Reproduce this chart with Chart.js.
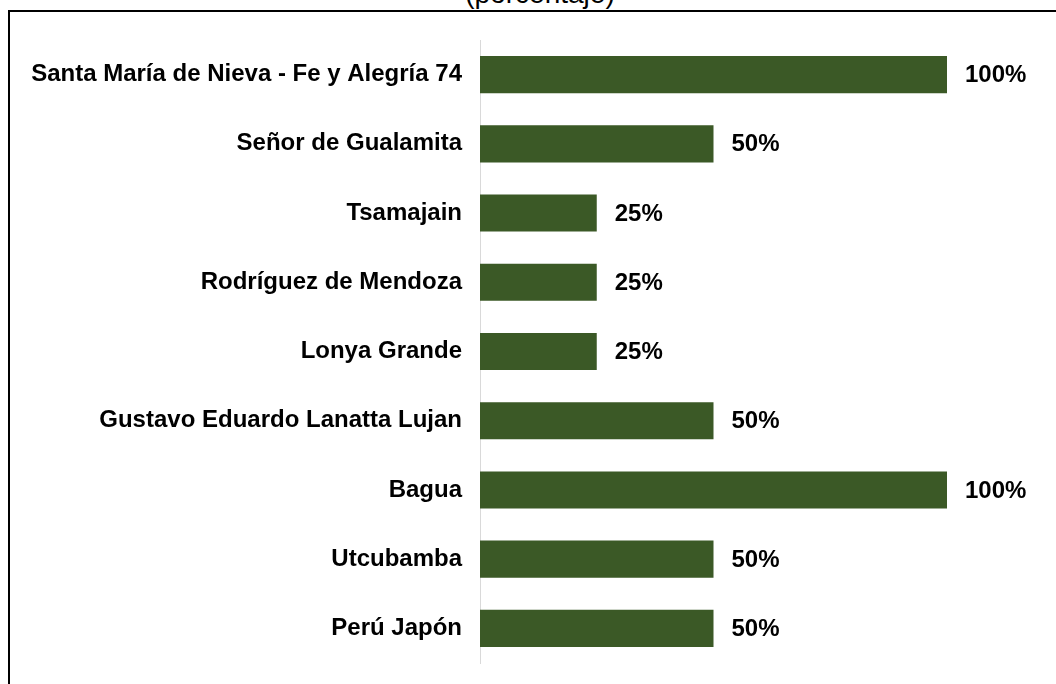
<!DOCTYPE html>
<html lang="es">
<head>
  <meta charset="UTF-8">
  <title>Porcentaje</title>
  <script src="https://cdn.jsdelivr.net/npm/chart.js"></script>
  <style>
    body {
      margin: 0;
      background: #ffffff;
      overflow: hidden;
    }
    .wrap {
      position: relative;
      width: 1056px;
      height: 684px;
    }
    .frame {
      position: absolute;
      left: 8px;
      top: 10px;
      width: 1100px;
      height: 700px;
      border-left: 2px solid #000;
      border-top: 2px solid #000;
    }
    .title {
      position: absolute;
      left: 0;
      width: 1080px;
      top: -20px;
      text-align: center;
      font-family: 'Liberation Sans', Arial, sans-serif;
      font-size: 28px;
      line-height: 28px;
      color: #000;
    }
    canvas {
      position: absolute;
      left: 0;
      top: 0;
    }
  </style>
</head>
<body>
  <div class="wrap">
    <div class="frame"></div>
    <div class="title">(porcentaje)</div>
    <canvas id="chart" width="1056" height="684"></canvas>
  </div>

  <script>
    const categories = [
      'Santa María de Nieva - Fe y Alegría 74',
      'Señor de Gualamita',
      'Tsamajain',
      'Rodríguez de Mendoza',
      'Lonya Grande',
      'Gustavo Eduardo Lanatta Lujan',
      'Bagua',
      'Utcubamba',
      'Perú Japón'
    ];
    const values = [100, 50, 25, 25, 25, 50, 100, 50, 50];

    const labelFont = 'bold 24px "Liberation Sans", Arial, sans-serif';

    // value labels to the right of each bar
    const valueLabels = {
      id: 'valueLabels',
      afterDatasetsDraw(chart) {
        const ctx = chart.ctx;
        const meta = chart.getDatasetMeta(0);
        ctx.save();
        ctx.font = labelFont;
        ctx.fillStyle = '#000';
        ctx.textAlign = 'left';
        ctx.textBaseline = 'middle';
        meta.data.forEach((bar, i) => {
          ctx.fillText(values[i] + '%', bar.x + 18, bar.y + 1);
        });
        ctx.restore();
      }
    };

    new Chart(document.getElementById('chart'), {
      type: 'bar',
      data: {
        labels: categories,
        datasets: [{
          data: values,
          backgroundColor: '#3b5926',
          borderWidth: 0,
          barPercentage: 0.536,
          categoryPercentage: 1
        }]
      },
      options: {
        indexAxis: 'y',
        responsive: false,
        animation: false,
        layout: {
          padding: { left: 0, right: 109, top: 40, bottom: 21 }
        },
        scales: {
          x: {
            display: false,
            min: 0,
            max: 100
          },
          y: {
            afterFit(scale) {
              scale.width = 480;
              scale.paddingTop = 0;
              scale.paddingBottom = 0;
            },
            grid: { display: false, drawTicks: false },
            border: { display: true, color: '#d9d9d9', width: 1 },
            ticks: {
              padding: 18,
              color: '#000',
              font: { family: '"Liberation Sans", Arial, sans-serif', size: 24, weight: 'bold' }
            }
          }
        },
        plugins: {
          legend: { display: false },
          tooltip: { enabled: false }
        }
      },
      plugins: [valueLabels]
    });
  </script>
</body>
</html>
